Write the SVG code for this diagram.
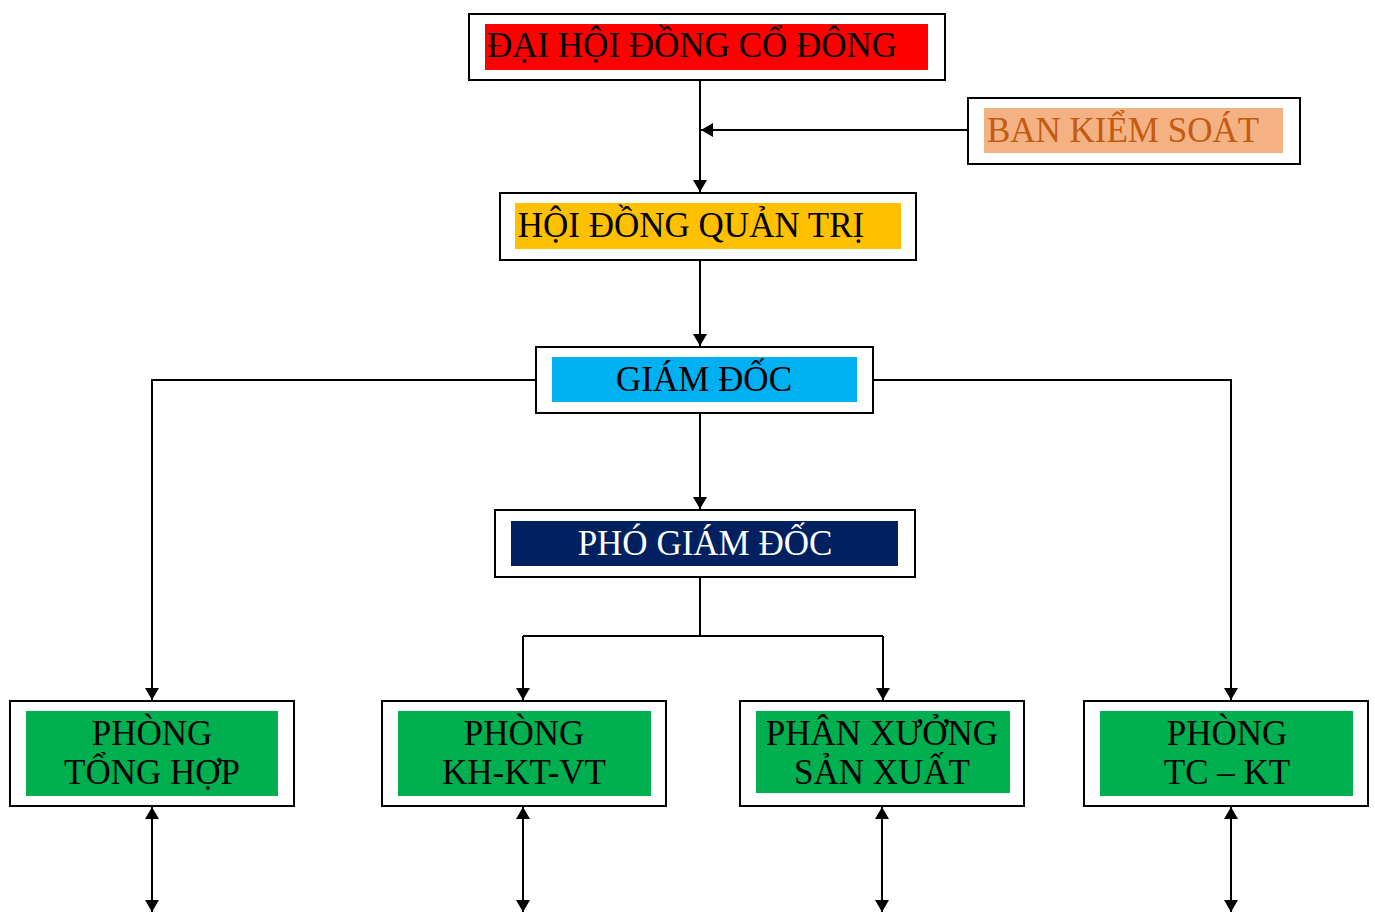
<svg xmlns="http://www.w3.org/2000/svg" width="1375" height="913" viewBox="0 0 1375 913">
<defs>
<marker id="ah" viewBox="0 0 12 14" refX="12" refY="7" markerWidth="13" markerHeight="14" markerUnits="userSpaceOnUse" orient="auto-start-reverse">
<path d="M0,0 L12,7 L0,14 Z" fill="#000"/>
</marker>
<style>
.outer{fill:#fff;stroke:#000;stroke-width:2}
.t{font-family:"Liberation Serif","Times New Roman",serif;font-size:35px;text-anchor:middle;fill:#000}
.c{fill:none;stroke:#000;stroke-width:2}
</style>
</defs>
<rect width="1375" height="913" fill="#fff"/>
<g id="connectors">
<path class="c" d="M700,80 V192" marker-end="url(#ah)"/>
<path class="c" d="M968,130 H701" marker-end="url(#ah)"/>
<path class="c" d="M700,260 V346" marker-end="url(#ah)"/>
<path class="c" d="M700,413 V509" marker-end="url(#ah)"/>
<path class="c" d="M536,380 H152 V700" marker-end="url(#ah)"/>
<path class="c" d="M873,380 H1231 V700" marker-end="url(#ah)"/>
<path class="c" d="M700,577 V636"/>
<path class="c" d="M523,636 H883"/>
<path class="c" d="M523,636 V700" marker-end="url(#ah)"/>
<path class="c" d="M883,636 V700" marker-end="url(#ah)"/>
<path class="c" d="M152,807 V912" marker-start="url(#ah)" marker-end="url(#ah)"/>
<path class="c" d="M523,807 V912" marker-start="url(#ah)" marker-end="url(#ah)"/>
<path class="c" d="M882,807 V912" marker-start="url(#ah)" marker-end="url(#ah)"/>
<path class="c" d="M1231,807 V912" marker-start="url(#ah)" marker-end="url(#ah)"/>
</g>
<g id="dai-hoi-dong-co-dong">
<rect class="outer" x="469" y="14" width="476" height="66"/>
<rect x="485" y="24" width="443" height="46" fill="#FF0000"/>
<text class="t" x="692" y="57">ĐẠI HỘI ĐỒNG CỔ ĐÔNG</text>
</g>
<g id="ban-kiem-soat">
<rect class="outer" x="968" y="98" width="332" height="66"/>
<rect x="984" y="108" width="299" height="45" fill="#F4B183"/>
<text class="t" x="1123" y="142" style="fill:#C55A11">BAN KIỂM SOÁT</text>
</g>
<g id="hoi-dong-quan-tri">
<rect class="outer" x="500" y="193" width="416" height="67"/>
<rect x="515" y="203" width="386" height="46" fill="#FFC000"/>
<text class="t" x="691" y="237">HỘI ĐỒNG QUẢN TRỊ</text>
</g>
<g id="giam-doc">
<rect class="outer" x="536" y="347" width="337" height="66"/>
<rect x="552" y="357" width="305" height="45" fill="#00B0F0"/>
<text class="t" x="704" y="391">GIÁM ĐỐC</text>
</g>
<g id="pho-giam-doc">
<rect class="outer" x="495" y="510" width="420" height="67"/>
<rect x="511" y="521" width="387" height="45" fill="#002060"/>
<text class="t" x="705" y="555" style="fill:#fff">PHÓ GIÁM ĐỐC</text>
</g>
<g id="phong-tong-hop">
<rect class="outer" x="10" y="701" width="284" height="105"/>
<rect x="26" y="711" width="252" height="85" fill="#00B050"/>
<text class="t" x="152" y="745">PHÒNG</text>
<text class="t" x="152" y="784">TỔNG HỢP</text>
</g>
<g id="phong-kh-kt-vt">
<rect class="outer" x="382" y="701" width="284" height="105"/>
<rect x="398" y="711" width="253" height="85" fill="#00B050"/>
<text class="t" x="524" y="745">PHÒNG</text>
<text class="t" x="524" y="784">KH-KT-VT</text>
</g>
<g id="phan-xuong-san-xuat">
<rect class="outer" x="740" y="701" width="284" height="105"/>
<rect x="756" y="711" width="254" height="82" fill="#00B050"/>
<text class="t" x="882" y="745">PHÂN XƯỞNG</text>
<text class="t" x="882" y="784">SẢN XUẤT</text>
</g>
<g id="phong-tc-kt">
<rect class="outer" x="1084" y="701" width="284" height="105"/>
<rect x="1100" y="711" width="253" height="85" fill="#00B050"/>
<text class="t" x="1227" y="745">PHÒNG</text>
<text class="t" x="1227" y="784">TC – KT</text>
</g>
</svg>
